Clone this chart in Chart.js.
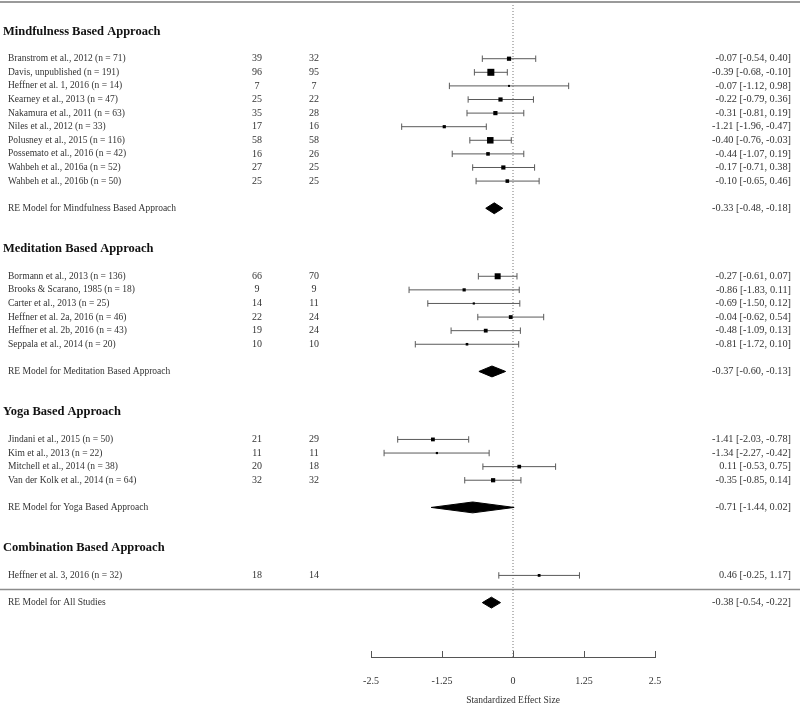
<!DOCTYPE html>
<html>
<head>
<meta charset="utf-8">
<title>Forest plot</title>
<script src="https://cdn.jsdelivr.net/npm/chart.js@4.4.1/dist/chart.umd.min.js"></script>
<style>
  html, body { margin: 0; padding: 0; background: #fff; }
  #wrap { width: 800px; height: 706px; }
</style>
</head>
<body>
<div id="wrap"><canvas id="forest" width="800" height="706"></canvas></div>
<script>
// -----------------------------
// Data
// -----------------------------
const groupNames = [
    'Mindfulness Based Approach',
    'Meditation Based Approach',
    'Yoga Based Approach',
    'Combination Based Approach'
];

// group index of every study
const studyGroup = [0, 0, 0, 0, 0, 0, 0, 0, 0, 0, 1, 1, 1, 1, 1, 1, 2, 2, 2, 2, 3];

const studies = [
    'Branstrom et al., 2012 (n = 71)',
    'Davis, unpublished (n = 191)',
    'Heffner et al. 1, 2016 (n = 14)',
    'Kearney et al., 2013 (n = 47)',
    'Nakamura et al., 2011 (n = 63)',
    'Niles et al., 2012 (n = 33)',
    'Polusney et al., 2015 (n = 116)',
    'Possemato et al., 2016 (n = 42)',
    'Wahbeh et al., 2016a (n = 52)',
    'Wahbeh et al., 2016b (n = 50)',
    'Bormann et al., 2013 (n = 136)',
    'Brooks & Scarano, 1985 (n = 18)',
    'Carter et al., 2013 (n = 25)',
    'Heffner et al. 2a, 2016 (n = 46)',
    'Heffner et al. 2b, 2016 (n = 43)',
    'Seppala et al., 2014 (n = 20)',
    'Jindani et al., 2015 (n = 50)',
    'Kim et al., 2013 (n = 22)',
    'Mitchell et al., 2014 (n = 38)',
    'Van der Kolk et al., 2014 (n = 64)',
    'Heffner et al. 3, 2016 (n = 32)'
];

const nTreatment = [39, 96, 7, 25, 35, 17, 58, 16, 27, 25, 66, 9, 14, 22, 19, 10, 21, 11, 20, 32, 18];
const nControl   = [32, 95, 7, 22, 28, 16, 58, 26, 25, 25, 70, 9, 11, 24, 24, 10, 29, 11, 18, 32, 14];

const effect = [-0.07, -0.39, -0.07, -0.22, -0.31, -1.21, -0.40, -0.44, -0.17, -0.10,
                -0.27, -0.86, -0.69, -0.04, -0.48, -0.81,
                -1.41, -1.34, 0.11, -0.35,
                0.46];
const ciLower = [-0.54, -0.68, -1.12, -0.79, -0.81, -1.96, -0.76, -1.07, -0.71, -0.65,
                 -0.61, -1.83, -1.50, -0.62, -1.09, -1.72,
                 -2.03, -2.27, -0.53, -0.85,
                 -0.25];
const ciUpper = [0.40, -0.10, 0.98, 0.36, 0.19, -0.47, -0.03, 0.19, 0.38, 0.46,
                 0.07, 0.11, 0.12, 0.54, 0.13, 0.10,
                 -0.78, -0.42, 0.75, 0.14,
                 1.17];

// random effects summaries (null = no summary row for that group)
const summaryLabels = [
    'RE Model for Mindfulness Based Approach',
    'RE Model for Meditation Based Approach',
    'RE Model for Yoga Based Approach',
    null
];
const summaryEffect = [-0.33, -0.37, -0.71, null];
const summaryLower  = [-0.48, -0.60, -1.44, null];
const summaryUpper  = [-0.18, -0.13, 0.02, null];

const overallLabel = 'RE Model for All Studies';
const overallEffect = -0.38;
const overallLower = -0.54;
const overallUpper = -0.22;

const xTicks = [-2.5, -1.25, 0, 1.25, 2.5];
const xTitle = 'Standardized Effect Size';

// -----------------------------
// Style (square side in px, relative study weight)
// -----------------------------
const boxSide = [4.2, 7, 2, 4.2, 4.2, 3.2, 6.5, 3.6, 4.2, 3.6,
                 6, 3.2, 2.2, 3.8, 3.8, 2.6,
                 3.8, 2.2, 3.7, 4.2,
                 2.8];

// -----------------------------
// Row layout
// -----------------------------
const studyRow = [];
const headerRow = [];
const summaryRow = [];
let row = -1;
groupNames.forEach((g, gi) => {
    headerRow.push(row);
    row += 2;
    studies.forEach((s, i) => {
        if (studyGroup[i] === gi) { studyRow[i] = row; row += 1; }
    });
    row += 1;
    if (summaryEffect[gi] !== null) { summaryRow.push(row); row += 3; }
    else { summaryRow.push(null); }
});
const separatorRow = row - 1;
const overallRow = row;

const fmt = v => v.toFixed(2);
const diamondHalf = 0.4;

function diamond(est, lo, hi, r) {
    return [
        { x: lo, y: r }, { x: est, y: r - diamondHalf }, { x: hi, y: r },
        { x: est, y: r + diamondHalf }, { x: lo, y: r }
    ];
}

// -----------------------------
// Datasets
// -----------------------------
const datasets = [];

datasets.push({
    data: studies.map((s, i) => ({ x: effect[i], y: studyRow[i] })),
    pointStyle: 'rect',
    pointRadius: boxSide.map(s => s / Math.SQRT2),
    backgroundColor: '#000',
    borderWidth: 0,
    showLine: false,
    order: 0
});

summaryEffect.forEach((e, gi) => {
    if (e === null) return;
    datasets.push({
        data: diamond(e, summaryLower[gi], summaryUpper[gi], summaryRow[gi]),
        showLine: true, fill: 'shape', pointRadius: 0,
        borderColor: '#000', backgroundColor: '#000', borderWidth: 1,
        order: 1
    });
});
datasets.push({
    data: diamond(overallEffect, overallLower, overallUpper, overallRow),
    showLine: true, fill: 'shape', pointRadius: 0,
    borderColor: '#000', backgroundColor: '#000', borderWidth: 1,
    order: 1
});

studies.forEach((s, i) => {
    datasets.push({
        data: [{ x: ciLower[i], y: studyRow[i] }, { x: ciUpper[i], y: studyRow[i] }],
        showLine: true,
        borderColor: '#5a5a5a', borderWidth: 1,
        pointStyle: 'line', rotation: 90, pointRadius: 3.2,
        pointBorderColor: '#5a5a5a', pointBorderWidth: 1,
        order: 2
    });
});

// reference line at zero, from the top rule down to the axis
datasets.push({
    data: [{ x: 0, y: -2.95 }, { x: 0, y: 45 }],
    showLine: true, pointRadius: 0,
    borderColor: '#777', borderWidth: 1, borderDash: [1, 2],
    order: 3
});

// -----------------------------
// Text columns and frame lines
// -----------------------------
const serif = '"Liberation Serif", "Times New Roman", serif';

const textPlugin = {
    id: 'forestText',
    afterDraw(chart) {
        const ctx = chart.ctx;
        const ys = chart.scales.y;
        const xs = chart.scales.x;
        const W = chart.width;
        ctx.save();

        // top rule
        ctx.strokeStyle = '#9a9a9a';
        ctx.lineWidth = 2;
        ctx.beginPath(); ctx.moveTo(0, 2); ctx.lineTo(W, 2); ctx.stroke();

        // rule above overall estimate
        const sy = Math.round(ys.getPixelForValue(separatorRow)) + 0.5;
        ctx.strokeStyle = '#8c8c8c';
        ctx.lineWidth = 1.5;
        ctx.beginPath(); ctx.moveTo(0, sy); ctx.lineTo(W, sy); ctx.stroke();

        // axis ticks pointing up
        ctx.strokeStyle = '#555';
        ctx.lineWidth = 1;
        const by = chart.chartArea.bottom;
        xTicks.forEach(t => {
            const px = Math.round(xs.getPixelForValue(t)) + 0.5;
            ctx.beginPath(); ctx.moveTo(px, by - 6); ctx.lineTo(px, by); ctx.stroke();
        });

        ctx.textBaseline = 'middle';

        // group headers
        ctx.fillStyle = '#111';
        ctx.font = 'bold 12.5px ' + serif;
        ctx.textAlign = 'left';
        groupNames.forEach((g, gi) => ctx.fillText(g, 3, ys.getPixelForValue(headerRow[gi])));

        // study rows
        ctx.fillStyle = '#333';
        studies.forEach((s, i) => {
            const y = ys.getPixelForValue(studyRow[i]);
            ctx.font = '9.5px ' + serif;
            ctx.textAlign = 'left';
            ctx.fillText(s, 8, y);
            ctx.font = '10px ' + serif;
            ctx.textAlign = 'center';
            ctx.fillText(String(nTreatment[i]), 257, y);
            ctx.fillText(String(nControl[i]), 314, y);
            ctx.font = '10.3px ' + serif;
            ctx.textAlign = 'right';
            ctx.fillText(fmt(effect[i]) + ' [' + fmt(ciLower[i]) + ', ' + fmt(ciUpper[i]) + ']', 791, y);
        });

        // summaries
        summaryLabels.forEach((lab, gi) => {
            if (lab === null) return;
            const y = ys.getPixelForValue(summaryRow[gi]);
            ctx.font = '9.5px ' + serif;
            ctx.textAlign = 'left';
            ctx.fillText(lab, 8, y);
            ctx.font = '10.3px ' + serif;
            ctx.textAlign = 'right';
            ctx.fillText(fmt(summaryEffect[gi]) + ' [' + fmt(summaryLower[gi]) + ', ' + fmt(summaryUpper[gi]) + ']', 791, y);
        });
        const oy = ys.getPixelForValue(overallRow);
        ctx.font = '9.5px ' + serif;
        ctx.textAlign = 'left';
        ctx.fillText(overallLabel, 8, oy);
        ctx.font = '10.3px ' + serif;
        ctx.textAlign = 'right';
        ctx.fillText(fmt(overallEffect) + ' [' + fmt(overallLower) + ', ' + fmt(overallUpper) + ']', 791, oy);

        ctx.restore();
    }
};

// -----------------------------
// Chart
// -----------------------------
const ctx = document.getElementById('forest').getContext('2d');
const forestChart = new Chart(ctx, {
    type: 'scatter',
    data: { datasets: datasets },
    options: {
        responsive: false,
        animation: false,
        events: [],
        layout: { padding: { left: 371, right: 145, top: 2, bottom: 0 } },
        plugins: { legend: { display: false }, tooltip: { enabled: false } },
        scales: {
            x: {
                type: 'linear',
                min: -2.5,
                max: 2.5,
                afterFit: s => { s.height = 49; },
                afterBuildTicks: s => { s.ticks = xTicks.map(v => ({ value: v })); },
                grid: { display: false, drawTicks: false },
                border: { display: true, color: '#555', width: 1 },
                ticks: {
                    padding: 18,
                    color: '#333',
                    font: { family: serif, size: 10 },
                    callback: v => String(v)
                },
                title: {
                    display: true,
                    text: xTitle,
                    color: '#333',
                    padding: { top: 0, bottom: 0 },
                    font: { family: serif, size: 9.5 }
                }
            },
            y: {
                type: 'linear',
                display: false,
                reverse: true,
                min: -2.95,
                max: 45
            }
        }
    },
    plugins: [textPlugin]
});
</script>
</body>
</html>
